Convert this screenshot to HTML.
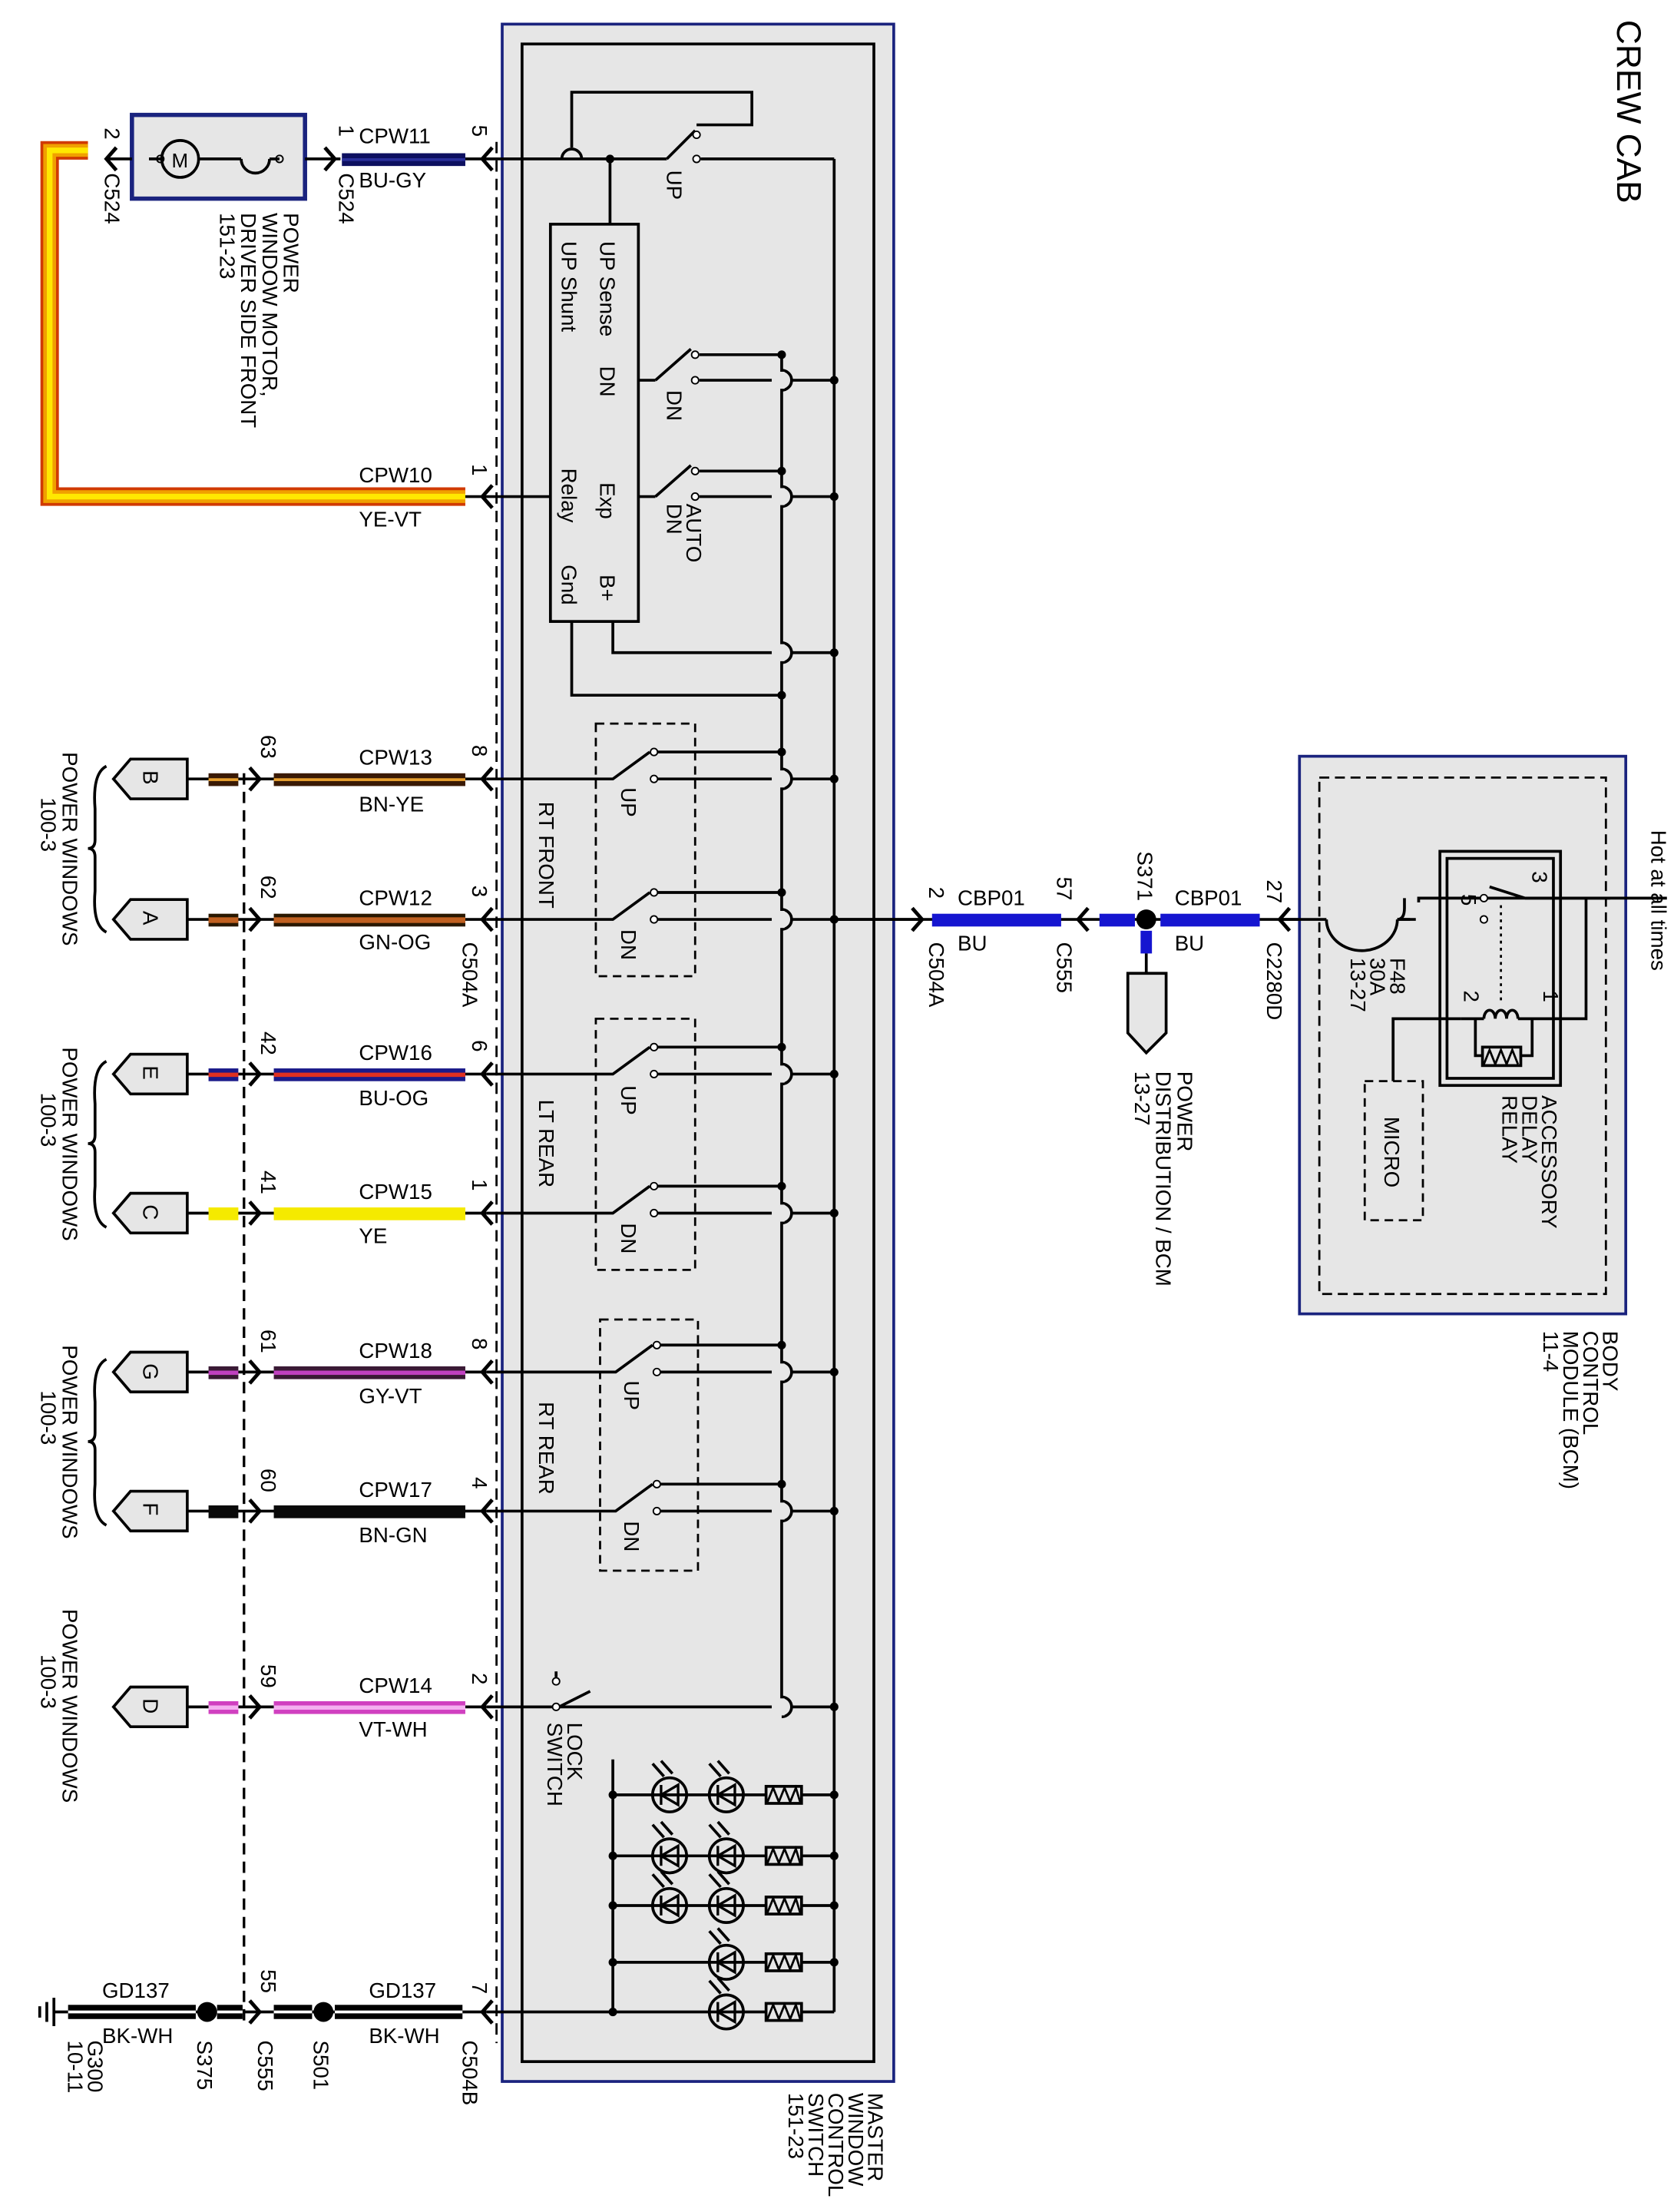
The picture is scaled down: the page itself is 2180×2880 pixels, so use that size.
<!DOCTYPE html>
<html><head><meta charset="utf-8"><style>
html,body{margin:0;padding:0;background:#fff;}
svg{display:block;}
text{font-family:"Liberation Sans",Arial,sans-serif;font-size:15px;fill:#000;}
.r{font-size:15px;}
</style></head><body>
<svg width="2180" height="2880" viewBox="0 0 1180 1559" preserveAspectRatio="none" xmlns="http://www.w3.org/2000/svg">
<defs>
<g id="al"><path d="M7,-8 L0,0 L7,8" fill="none" stroke="#000" stroke-width="2.6"/></g>
<g id="ar"><path d="M-7,-8 L0,0 L-7,8" fill="none" stroke="#000" stroke-width="2.6"/></g>
<g id="led"><circle r="12" fill="none" stroke="#000" stroke-width="2"/><path d="M-6,0 L6,-7 L6,7 Z M-6,-7 L-6,7" fill="none" stroke="#000" stroke-width="1.8"/><path d="M-12,-22 L-4,-13 M-6,-24 L2,-15" stroke="#000" stroke-width="2"/></g>
<g id="res"><rect x="-12" y="-6" width="25" height="12" fill="none" stroke="#000" stroke-width="2"/><path d="M-11,5 L-7,-5 L-3,5 L1,-5 L5,5 L9,-5 L12,5" fill="none" stroke="#000" stroke-width="1.5"/></g>
<g id="hop"><path d="M0,-7 A7,7 0 0 1 0,7" fill="none" stroke="#000" stroke-width="2"/></g>
</defs>

<!-- CREW CAB -->
<text transform="translate(1140,14) rotate(90)" style="font-size:24px">CREW CAB</text>

<!-- Master switch box -->
<rect x="354" y="17" width="276" height="1450" fill="#e6e6e6" stroke="#1a237e" stroke-width="2"/>
<rect x="368" y="31" width="248" height="1422" fill="none" stroke="#000" stroke-width="2"/>
<text transform="translate(612,1475) rotate(90)"><tspan x="0" dy="0">MASTER</tspan><tspan x="0" dy="14">WINDOW</tspan><tspan x="0" dy="14">CONTROL</tspan><tspan x="0" dy="14">SWITCH</tspan><tspan x="0" dy="14">151-23</tspan></text>

<!-- dashed lines -->
<line x1="350" y1="100" x2="350" y2="1440" stroke="#000" stroke-width="1.5" stroke-dasharray="8,5"/>
<line x1="172" y1="545" x2="172" y2="1425" stroke="#000" stroke-width="1.8" stroke-dasharray="8,5"/>

<!-- buses -->
<line x1="588" y1="112" x2="588" y2="1418" stroke="#000" stroke-width="2"/>
<line x1="551" y1="250" x2="551" y2="1203" stroke="#000" stroke-width="2"/>

<!-- Motor -->
<rect x="93" y="81" width="122" height="59" fill="#e6e6e6" stroke="#1a237e" stroke-width="3"/>
<circle cx="127" cy="112" r="13" fill="none" stroke="#000" stroke-width="2"/>
<text x="121" y="118" style="font-size:14px">M</text>
<line x1="105" y1="112" x2="114" y2="112" stroke="#000" stroke-width="2"/>
<line x1="140" y1="112" x2="170" y2="112" stroke="#000" stroke-width="2"/>
<path d="M170,112 A10,10 0 0 0 190,112" fill="none" stroke="#000" stroke-width="2"/>
<line x1="190" y1="112" x2="197" y2="112" stroke="#000" stroke-width="2"/>
<circle cx="113" cy="112" r="2.5" fill="none" stroke="#000"/><circle cx="197" cy="112" r="2.5" fill="none" stroke="#000"/>
<text transform="translate(200,150) rotate(90)"><tspan x="0" dy="0">POWER</tspan><tspan x="0" dy="15">WINDOW MOTOR,</tspan><tspan x="0" dy="15">DRIVER SIDE FRONT</tspan><tspan x="0" dy="15">151-23</tspan></text>
<line x1="215" y1="112" x2="240" y2="112" stroke="#000" stroke-width="2"/>
<use href="#ar" x="236" y="112"/>
<text transform="translate(239,88) rotate(90)">1</text>
<text transform="translate(239,122) rotate(90)">C524</text>
<use href="#al" x="75" y="112"/>
<line x1="75" y1="112" x2="93" y2="112" stroke="#000" stroke-width="2"/>
<text transform="translate(74,90) rotate(90)">2</text>
<text transform="translate(74,122) rotate(90)">C524</text>

<!-- CPW11 -->
<rect x="241" y="108" width="87" height="9" fill="#0d1060"/><rect x="241" y="111.5" width="87" height="2" fill="#2a2f9a"/>
<line x1="328" y1="112" x2="470" y2="112" stroke="#000" stroke-width="2"/>
<use href="#al" x="340" y="112"/>
<text x="253" y="101">CPW11</text><text x="253" y="132">BU-GY</text>
<text transform="translate(333,88) rotate(90)">5</text>

<!-- yellow wire CPW10 -->
<path d="M62,106 L35,106 L35,350 L328,350" fill="none" stroke="#d03a00" stroke-width="13"/>
<path d="M62,106 L35,106 L35,350 L328,350" fill="none" stroke="#f0a000" stroke-width="9"/>
<path d="M62,106 L35,106 L35,350 L328,350" fill="none" stroke="#ffe800" stroke-width="4"/>
<line x1="328" y1="350" x2="388" y2="350" stroke="#000" stroke-width="2"/>
<use href="#al" x="340" y="350"/>
<text x="253" y="340">CPW10</text><text x="253" y="371">YE-VT</text>
<text transform="translate(333,327) rotate(90)">1</text>

<!-- top UP switch -->
<path d="M403,105 L403,65 L530,65 L530,88 L491,88" fill="none" stroke="#000" stroke-width="2"/>
<line x1="470" y1="112" x2="490" y2="92" stroke="#000" stroke-width="2"/>
<circle cx="491" cy="95" r="2.5" fill="#fff" stroke="#000"/><circle cx="491" cy="112" r="2.5" fill="#fff" stroke="#000"/>
<line x1="494" y1="112" x2="588" y2="112" stroke="#000" stroke-width="2"/>
<rect x="397" y="104" width="12" height="7" fill="#e6e6e6"/>
<path d="M396,112 A7,7 0 0 1 410,112" fill="none" stroke="#000" stroke-width="2"/>
<line x1="430" y1="112" x2="430" y2="158" stroke="#000" stroke-width="2"/>
<circle cx="430" cy="112" r="3" fill="#000"/>
<text transform="translate(470,120) rotate(90)">UP</text>

<!-- control module -->
<rect x="388" y="158" width="62" height="280" fill="none" stroke="#000" stroke-width="2"/>
<text transform="translate(423,170) rotate(90)">UP Sense</text>
<text transform="translate(396,170) rotate(90)">UP Shunt</text>
<text transform="translate(423,258) rotate(90)">DN</text>
<text transform="translate(423,340) rotate(90)">Exp</text>
<text transform="translate(396,330) rotate(90)">Relay</text>
<text transform="translate(423,405) rotate(90)">B+</text>
<text transform="translate(396,398) rotate(90)">Gnd</text>

<!-- DN switch y=268 -->
<line x1="450" y1="268" x2="462" y2="268" stroke="#000" stroke-width="2"/>
<line x1="462" y1="268" x2="487" y2="246" stroke="#000" stroke-width="2"/>
<circle cx="490" cy="250" r="2.5" fill="#fff" stroke="#000"/><circle cx="490" cy="268" r="2.5" fill="#fff" stroke="#000"/>
<line x1="493" y1="250" x2="551" y2="250" stroke="#000" stroke-width="2"/>
<line x1="493" y1="268" x2="544" y2="268" stroke="#000" stroke-width="2"/>
<line x1="558" y1="268" x2="588" y2="268" stroke="#000" stroke-width="2"/>
<text transform="translate(470,275) rotate(90)">DN</text>
<!-- AUTO DN y=350 -->
<line x1="450" y1="350" x2="462" y2="350" stroke="#000" stroke-width="2"/>
<line x1="462" y1="350" x2="487" y2="328" stroke="#000" stroke-width="2"/>
<circle cx="490" cy="332" r="2.5" fill="#fff" stroke="#000"/><circle cx="490" cy="350" r="2.5" fill="#fff" stroke="#000"/>
<line x1="493" y1="350" x2="544" y2="350" stroke="#000" stroke-width="2"/>
<line x1="558" y1="350" x2="588" y2="350" stroke="#000" stroke-width="2"/>
<text transform="translate(484,355) rotate(90)"><tspan x="0" dy="0">AUTO</tspan><tspan x="0" dy="14">DN</tspan></text>
<!-- B+ / Gnd -->
<path d="M432,438 L432,460 L544,460 M558,460 L588,460" fill="none" stroke="#000" stroke-width="2"/>
<path d="M403,438 L403,490 L551,490" fill="none" stroke="#000" stroke-width="2"/>
<circle cx="551" cy="490" r="3" fill="#000"/>

<!-- hops on bus 551 -->
<g stroke="#000" stroke-width="2" fill="none">
<path d="M551,261 A7,7 0 0 1 551,275"/><path d="M551,343 A7,7 0 0 1 551,357"/><path d="M551,453 A7,7 0 0 1 551,467"/>
<path d="M551,542 A7,7 0 0 1 551,556"/><path d="M551,641 A7,7 0 0 1 551,655"/><path d="M551,750 A7,7 0 0 1 551,764"/>
<path d="M551,848 A7,7 0 0 1 551,862"/><path d="M551,960 A7,7 0 0 1 551,974"/><path d="M551,1058 A7,7 0 0 1 551,1072"/><path d="M551,1196 A7,7 0 0 1 551,1210"/>
</g>
<g fill="#e6e6e6"><rect x="549" y="262" width="4" height="12"/><rect x="549" y="344" width="4" height="12"/><rect x="549" y="454" width="4" height="12"/><rect x="549" y="543" width="4" height="12"/><rect x="549" y="642" width="4" height="12"/><rect x="549" y="751" width="4" height="12"/><rect x="549" y="849" width="4" height="12"/><rect x="549" y="961" width="4" height="12"/><rect x="549" y="1059" width="4" height="12"/><rect x="549" y="1197" width="4" height="12"/></g>
<g fill="#000"><circle cx="588" cy="268" r="3"/><circle cx="588" cy="350" r="3"/><circle cx="588" cy="460" r="3"/><circle cx="551" cy="250" r="3"/><circle cx="551" cy="332" r="3"/></g>
<line x1="493" y1="332" x2="551" y2="332" stroke="#000" stroke-width="2"/>

<!-- switch modules dashed -->
<g fill="none" stroke="#000" stroke-width="1.5" stroke-dasharray="6,4">
<rect x="420" y="510" width="70" height="178"/><rect x="420" y="718" width="70" height="177"/><rect x="423" y="930" width="69" height="177"/>
</g>
<text transform="translate(380,565) rotate(90)">RT FRONT</text>
<text transform="translate(380,775) rotate(90)">LT REAR</text>
<text transform="translate(380,988) rotate(90)">RT REAR</text>

<!-- generic row switches -->
<g stroke="#000" stroke-width="2" fill="none">
<!-- 549 UP -->
<path d="M343,549 L432,549 L458,530 M463,530 L551,530 M463,549 L544,549 M558,549 L588,549"/>
<!-- 648 DN -->
<path d="M343,648 L432,648 L458,629 M463,629 L551,629 M463,648 L544,648 M558,648 L650,648"/>
<!-- 757 -->
<path d="M343,757 L432,757 L458,738 M463,738 L551,738 M463,757 L544,757 M558,757 L588,757"/>
<!-- 855 -->
<path d="M343,855 L432,855 L458,836 M463,836 L551,836 M463,855 L544,855 M558,855 L588,855"/>
<!-- 967 -->
<path d="M343,967 L434,967 L460,948 M465,948 L551,948 M465,967 L544,967 M558,967 L588,967"/>
<!-- 1065 -->
<path d="M343,1065 L434,1065 L460,1046 M465,1046 L551,1046 M465,1065 L544,1065 M558,1065 L588,1065"/>
<!-- lock 1203 -->
<path d="M343,1203 L390,1203 M394,1203 L416,1192 M394,1203 L544,1203 M558,1203 L588,1203"/>
</g>
<g fill="#fff" stroke="#000" stroke-width="1">
<circle cx="461" cy="530" r="2.5"/><circle cx="461" cy="549" r="2.5"/><circle cx="461" cy="629" r="2.5"/><circle cx="461" cy="648" r="2.5"/>
<circle cx="461" cy="738" r="2.5"/><circle cx="461" cy="757" r="2.5"/><circle cx="461" cy="836" r="2.5"/><circle cx="461" cy="855" r="2.5"/>
<circle cx="463" cy="948" r="2.5"/><circle cx="463" cy="967" r="2.5"/><circle cx="463" cy="1046" r="2.5"/><circle cx="463" cy="1065" r="2.5"/>
<circle cx="392" cy="1185" r="2.5"/><circle cx="392" cy="1203" r="2.5"/>
</g>
<path d="M392,1182 L392,1178" stroke="#000" stroke-width="2"/>
<g fill="#000"><circle cx="551" cy="530" r="3"/><circle cx="588" cy="549" r="3"/><circle cx="551" cy="629" r="3"/><circle cx="588" cy="648" r="3"/><circle cx="551" cy="738" r="3"/><circle cx="588" cy="757" r="3"/><circle cx="551" cy="836" r="3"/><circle cx="588" cy="855" r="3"/><circle cx="551" cy="948" r="3"/><circle cx="588" cy="967" r="3"/><circle cx="551" cy="1046" r="3"/><circle cx="588" cy="1065" r="3"/><circle cx="588" cy="1203" r="3"/></g>
<text transform="translate(438,555) rotate(90)">UP</text>
<text transform="translate(438,655) rotate(90)">DN</text>
<text transform="translate(438,765) rotate(90)">UP</text>
<text transform="translate(438,862) rotate(90)">DN</text>
<text transform="translate(440,973) rotate(90)">UP</text>
<text transform="translate(440,1072) rotate(90)">DN</text>
<text transform="translate(400,1214) rotate(90)"><tspan x="0" dy="0">LOCK</tspan><tspan x="0" dy="14">SWITCH</tspan></text>

<!-- LED area -->
<line x1="432" y1="1240" x2="432" y2="1418" stroke="#000" stroke-width="2"/>
<g stroke="#000" stroke-width="2">
<line x1="432" y1="1265" x2="588" y2="1265"/><line x1="432" y1="1308" x2="588" y2="1308"/><line x1="432" y1="1343" x2="588" y2="1343"/><line x1="432" y1="1383" x2="588" y2="1383"/><line x1="343" y1="1418" x2="588" y2="1418"/>
</g>
<g fill="#000"><circle cx="432" cy="1265" r="3"/><circle cx="432" cy="1308" r="3"/><circle cx="432" cy="1343" r="3"/><circle cx="432" cy="1383" r="3"/><circle cx="432" cy="1418" r="3"/>
<circle cx="588" cy="1265" r="3"/><circle cx="588" cy="1308" r="3"/><circle cx="588" cy="1343" r="3"/><circle cx="588" cy="1383" r="3"/></g>
<g fill="#e6e6e6">
<use href="#led" x="472" y="1265"/><use href="#led" x="512" y="1265"/><use href="#led" x="472" y="1308"/><use href="#led" x="512" y="1308"/><use href="#led" x="472" y="1343"/><use href="#led" x="512" y="1343"/><use href="#led" x="512" y="1383"/><use href="#led" x="512" y="1418"/>
</g>
<g><rect x="540" y="1259" width="25" height="12" fill="#e6e6e6"/><rect x="540" y="1302" width="25" height="12" fill="#e6e6e6"/><rect x="540" y="1337" width="25" height="12" fill="#e6e6e6"/><rect x="540" y="1377" width="25" height="12" fill="#e6e6e6"/><rect x="540" y="1412" width="25" height="12" fill="#e6e6e6"/>
<use href="#res" x="552" y="1265"/><use href="#res" x="552" y="1308"/><use href="#res" x="552" y="1343"/><use href="#res" x="552" y="1383"/><use href="#res" x="552" y="1418"/></g>

<!-- Left side rows -->
<g stroke="#000" stroke-width="2">
<line x1="132" y1="549" x2="343" y2="549"/><line x1="132" y1="648" x2="343" y2="648"/><line x1="132" y1="757" x2="343" y2="757"/><line x1="132" y1="855" x2="343" y2="855"/><line x1="132" y1="967" x2="343" y2="967"/><line x1="132" y1="1065" x2="343" y2="1065"/><line x1="132" y1="1203" x2="343" y2="1203"/>
</g>
<!-- connectors -->
<g fill="#e6e6e6" stroke="#000" stroke-width="2">
<path d="M80,549 L92,535 L132,535 L132,563 L92,563 Z"/><path d="M80,648 L92,634 L132,634 L132,662 L92,662 Z"/>
<path d="M80,757 L92,743 L132,743 L132,771 L92,771 Z"/><path d="M80,855 L92,841 L132,841 L132,869 L92,869 Z"/>
<path d="M80,967 L92,953 L132,953 L132,981 L92,981 Z"/><path d="M80,1065 L92,1051 L132,1051 L132,1079 L92,1079 Z"/>
<path d="M80,1203 L92,1189 L132,1189 L132,1217 L92,1217 Z"/>
</g>
<text transform="translate(101,543) rotate(90)">B</text><text transform="translate(101,642) rotate(90)">A</text>
<text transform="translate(101,751) rotate(90)">E</text><text transform="translate(101,849) rotate(90)">C</text>
<text transform="translate(101,961) rotate(90)">G</text><text transform="translate(101,1059) rotate(90)">F</text>
<text transform="translate(101,1197) rotate(90)">D</text>
<!-- braces -->
<g fill="none" stroke="#000" stroke-width="2">
<path d="M75,540 Q65,545 67,570 L67,592 Q67,598 62,598 Q67,598 67,604 L67,628 Q65,652 75,657"/>
<path d="M75,748 Q65,753 67,778 L67,800 Q67,806 62,806 Q67,806 67,812 L67,836 Q65,860 75,865"/>
<path d="M75,958 Q65,963 67,988 L67,1010 Q67,1016 62,1016 Q67,1016 67,1022 L67,1046 Q65,1070 75,1075"/>
</g>
<text transform="translate(44,530) rotate(90)"><tspan x="0" dy="0">POWER WINDOWS</tspan><tspan x="32" dy="15">100-3</tspan></text>
<text transform="translate(44,738) rotate(90)"><tspan x="0" dy="0">POWER WINDOWS</tspan><tspan x="32" dy="15">100-3</tspan></text>
<text transform="translate(44,948) rotate(90)"><tspan x="0" dy="0">POWER WINDOWS</tspan><tspan x="32" dy="15">100-3</tspan></text>
<text transform="translate(44,1134) rotate(90)"><tspan x="0" dy="0">POWER WINDOWS</tspan><tspan x="32" dy="15">100-3</tspan></text>

<!-- wire segments -->
<g>
<rect x="147" y="545" width="21" height="9" fill="#3a1a05"/><rect x="147" y="548.5" width="21" height="2" fill="#e8a030"/>
<rect x="193" y="545" width="135" height="9" fill="#3a1a05"/><rect x="193" y="548.5" width="135" height="2" fill="#e8a030"/>
<rect x="147" y="644" width="21" height="9" fill="#2a1800"/><rect x="147" y="646.5" width="21" height="4" fill="#c06020"/>
<rect x="193" y="644" width="135" height="9" fill="#2a1800"/><rect x="193" y="646.5" width="135" height="4" fill="#c06020"/>
<rect x="147" y="753" width="21" height="9" fill="#1a1a8a"/><rect x="147" y="756" width="21" height="3" fill="#e03020"/>
<rect x="193" y="753" width="135" height="9" fill="#1a1a8a"/><rect x="193" y="756" width="135" height="3" fill="#e03020"/>
<rect x="147" y="851" width="21" height="9" fill="#f5ea00"/><rect x="193" y="851" width="135" height="9" fill="#f5ea00"/>
<rect x="147" y="963" width="21" height="9" fill="#3a1a35"/><rect x="147" y="966" width="21" height="3" fill="#c040c0"/>
<rect x="193" y="963" width="135" height="9" fill="#3a1a35"/><rect x="193" y="966" width="135" height="3" fill="#c040c0"/>
<rect x="147" y="1061" width="21" height="9" fill="#0a0a0a"/><rect x="193" y="1061" width="135" height="9" fill="#0a0a0a"/>
<rect x="147" y="1199" width="21" height="9" fill="#d040c0"/><rect x="147" y="1202" width="21" height="3" fill="#f4b0f0"/>
<rect x="193" y="1199" width="135" height="9" fill="#d040c0"/><rect x="193" y="1202" width="135" height="3" fill="#f4b0f0"/>
</g>
<!-- chevrons -->
<use href="#ar" x="183" y="549"/><use href="#ar" x="183" y="648"/><use href="#ar" x="183" y="757"/><use href="#ar" x="183" y="855"/><use href="#ar" x="183" y="967"/><use href="#ar" x="183" y="1065"/><use href="#ar" x="183" y="1203"/><use href="#ar" x="183" y="1418"/>
<use href="#al" x="340" y="549"/><use href="#al" x="340" y="648"/><use href="#al" x="340" y="757"/><use href="#al" x="340" y="855"/><use href="#al" x="340" y="967"/><use href="#al" x="340" y="1065"/><use href="#al" x="340" y="1203"/><use href="#al" x="340" y="1418"/>
<!-- labels -->
<text x="253" y="539">CPW13</text><text x="253" y="572">BN-YE</text>
<text x="253" y="638">CPW12</text><text x="253" y="669">GN-OG</text>
<text x="253" y="747">CPW16</text><text x="253" y="779">BU-OG</text>
<text x="253" y="845">CPW15</text><text x="253" y="876">YE</text>
<text x="253" y="957">CPW18</text><text x="253" y="989">GY-VT</text>
<text x="253" y="1055">CPW17</text><text x="253" y="1087">BN-GN</text>
<text x="253" y="1193">CPW14</text><text x="253" y="1224">VT-WH</text>
<g>
<text transform="translate(184,518) rotate(90)">63</text><text transform="translate(333,525) rotate(90)">8</text>
<text transform="translate(184,617) rotate(90)">62</text><text transform="translate(333,624) rotate(90)">3</text>
<text transform="translate(184,727) rotate(90)">42</text><text transform="translate(333,733) rotate(90)">6</text>
<text transform="translate(184,825) rotate(90)">41</text><text transform="translate(333,831) rotate(90)">1</text>
<text transform="translate(184,937) rotate(90)">61</text><text transform="translate(333,943) rotate(90)">8</text>
<text transform="translate(184,1035) rotate(90)">60</text><text transform="translate(333,1041) rotate(90)">4</text>
<text transform="translate(184,1173) rotate(90)">59</text><text transform="translate(333,1179) rotate(90)">2</text>
<text transform="translate(184,1388) rotate(90)">55</text><text transform="translate(333,1397) rotate(90)">7</text>
</g>
<text transform="translate(326,664) rotate(90)">C504A</text>

<!-- ground row -->
<g stroke="#000" stroke-width="2"><line x1="38" y1="1418" x2="343" y2="1418"/><line x1="38" y1="1408" x2="38" y2="1428"/><line x1="33" y1="1411" x2="33" y2="1425"/><line x1="28" y1="1414" x2="28" y2="1422"/></g>
<rect x="48" y="1413" width="90" height="10" fill="#000"/><rect x="48" y="1417" width="90" height="2" fill="#fff"/>
<rect x="153" y="1413" width="18" height="10" fill="#000"/><rect x="153" y="1417" width="18" height="2" fill="#fff"/>
<rect x="193" y="1413" width="27" height="10" fill="#000"/><rect x="193" y="1417" width="27" height="2" fill="#fff"/>
<rect x="236" y="1413" width="90" height="10" fill="#000"/><rect x="236" y="1417" width="90" height="2" fill="#fff"/>
<circle cx="146" cy="1418" r="7" fill="#000"/><circle cx="228" cy="1418" r="7" fill="#000"/>
<text x="72" y="1408">GD137</text><text x="72" y="1440">BK-WH</text>
<text x="260" y="1408">GD137</text><text x="260" y="1440">BK-WH</text>
<text transform="translate(62,1438) rotate(90)"><tspan x="0" dy="0">G300</tspan><tspan x="0" dy="14">10-11</tspan></text>
<text transform="translate(139,1438) rotate(90)">S375</text>
<text transform="translate(182,1438) rotate(90)">C555</text>
<text transform="translate(221,1438) rotate(90)">S501</text>
<text transform="translate(326,1438) rotate(90)">C504B</text>

<!-- right side -->
<line x1="588" y1="648" x2="1000" y2="648" stroke="#000" stroke-width="2"/>
<use href="#ar" x="650" y="648"/>
<rect x="657" y="644" width="91" height="9" fill="#1515d0"/>
<use href="#al" x="760" y="648"/>
<rect x="775" y="644" width="25" height="9" fill="#1515d0"/>
<rect x="818" y="644" width="70" height="9" fill="#1515d0"/>
<circle cx="808" cy="648" r="7" fill="#000"/>
<rect x="804" y="656" width="8" height="16" fill="#1515d0"/>
<line x1="808" y1="672" x2="808" y2="686" stroke="#000" stroke-width="2"/>
<path d="M795,686 L822,686 L822,728 L808,742 L795,728 Z" fill="#e6e6e6" stroke="#000" stroke-width="2"/>
<use href="#al" x="902" y="648"/>
<text transform="translate(655,625) rotate(90)">2</text>
<text transform="translate(655,664) rotate(90)">C504A</text>
<text x="675" y="638">CBP01</text><text x="675" y="670">BU</text>
<text transform="translate(745,618) rotate(90)">57</text>
<text transform="translate(745,664) rotate(90)">C555</text>
<text transform="translate(802,600) rotate(90)">S371</text>
<text x="828" y="638">CBP01</text><text x="828" y="670">BU</text>
<text transform="translate(893,620) rotate(90)">27</text>
<text transform="translate(893,664) rotate(90)">C2280D</text>
<text transform="translate(830,755) rotate(90)"><tspan x="0" dy="0">POWER</tspan><tspan x="0" dy="15">DISTRIBUTION / BCM</tspan><tspan x="0" dy="15">13-27</tspan></text>

<!-- BCM -->
<rect x="916" y="533" width="230" height="393" fill="#e6e6e6" stroke="#1a237e" stroke-width="2"/>
<rect x="930" y="548" width="202" height="364" fill="none" stroke="#000" stroke-width="1.5" stroke-dasharray="7,4"/>
<line x1="902" y1="648" x2="935" y2="648" stroke="#000" stroke-width="2"/>
<path d="M935,648 A25,22 0 0 0 985,648" fill="none" stroke="#000" stroke-width="2"/>
<line x1="985" y1="648" x2="1000" y2="648" stroke="#000" stroke-width="0"/>
<text transform="translate(980,675) rotate(90)"><tspan x="0" dy="0">F48</tspan><tspan x="0" dy="14">30A</tspan><tspan x="0" dy="14">13-27</tspan></text>
<!-- hot line -->
<path d="M985,648 L1000,648 L1000,633 L1175,633" fill="none" stroke="#000" stroke-width="2"/>
<rect x="994" y="636" width="10" height="16" fill="#e6e6e6"/>
<path d="M985,648 L998,648" stroke="#000" stroke-width="2"/>
<path d="M985,648 Q990,648 990,640 L990,633" fill="none" stroke="#000" stroke-width="2"/>
<text transform="translate(1164,585) rotate(90)">Hot at all times</text>
<!-- relay -->
<rect x="1015" y="600" width="85" height="165" fill="none" stroke="#000" stroke-width="2"/>
<rect x="1020" y="605" width="75" height="155" fill="none" stroke="#000" stroke-width="2"/>
<line x1="1075" y1="633" x2="1135" y2="633" stroke="#000" stroke-width="2"/>
<line x1="1075" y1="633" x2="1050" y2="625" stroke="#000" stroke-width="2"/>
<circle cx="1046" cy="633" r="2.5" fill="#fff" stroke="#000"/><circle cx="1046" cy="648" r="2.5" fill="#fff" stroke="#000"/>
<line x1="1058" y1="638" x2="1058" y2="705" stroke="#000" stroke-width="1.5" stroke-dasharray="2,3"/>
<path d="M1030,718 L1046,718 M1070,718 L1118,718 L1118,633" fill="none" stroke="#000" stroke-width="2"/>
<path d="M1046,718 a4,6 0 0 1 8,0 a4,6 0 0 1 8,0 a4,6 0 0 1 8,0" fill="none" stroke="#000" stroke-width="2"/>
<rect x="1045" y="738" width="27" height="13" fill="none" stroke="#000" stroke-width="2"/>
<path d="M1046,750 L1050,740 L1054,750 L1058,740 L1062,750 L1066,740 L1070,750" fill="none" stroke="#000" stroke-width="1.5"/>
<path d="M1040,718 L1040,744 L1045,744 M1072,744 L1080,744 L1080,718" fill="none" stroke="#000" stroke-width="2"/>
<path d="M1030,718 L982,718 L982,762" fill="none" stroke="#000" stroke-width="2"/>
<text transform="translate(1080,614) rotate(90)">3</text>
<text transform="translate(1030,630) rotate(90)">5</text>
<text transform="translate(1088,698) rotate(90)">1</text>
<text transform="translate(1032,698) rotate(90)">2</text>
<rect x="962" y="762" width="41" height="98" fill="none" stroke="#000" stroke-width="1.5" stroke-dasharray="6,4"/>
<text transform="translate(976,787) rotate(90)">MICRO</text>
<text transform="translate(1087,772) rotate(90)"><tspan x="0" dy="0">ACCESSORY</tspan><tspan x="0" dy="14">DELAY</tspan><tspan x="0" dy="14">RELAY</tspan></text>
<text transform="translate(1130,938) rotate(90)"><tspan x="0" dy="0">BODY</tspan><tspan x="0" dy="14">CONTROL</tspan><tspan x="0" dy="14">MODULE (BCM)</tspan><tspan x="0" dy="14">11-4</tspan></text>
</svg>
</body></html>
